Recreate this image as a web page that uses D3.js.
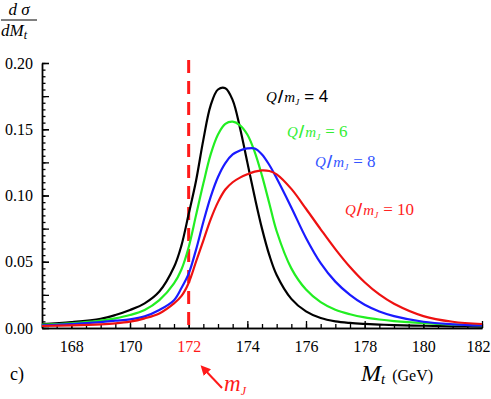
<!DOCTYPE html>
<html>
<head>
<meta charset="utf-8">
<script src="https://cdn.jsdelivr.net/npm/d3@7"></script>
<style>
  body { margin: 0; background: #fff; }
  svg { display: block; }
  .axis path, .axis line { stroke: #000; stroke-width: 1.3; }
</style>
</head>
<body>
<div id="chart"></div>
<script>
var SERIF = "'Liberation Serif', 'Times New Roman', serif";

// top mass values (GeV) where the curves were read
var massGrid = [167, 168, 169, 169.5, 170, 170.5, 171, 171.5, 171.75, 172, 172.25, 172.5, 172.75,
    173, 173.25, 173.5, 173.75, 174, 174.25, 174.5, 174.75, 175, 175.5, 176, 176.5,
    177, 177.5, 178, 178.5, 179, 180, 181, 182];

// d sigma / dMt for Q/mJ = 4, 6, 8, 10
var q4 = [0.003, 0.0045, 0.007, 0.0098, 0.0136, 0.0186, 0.0275, 0.046, 0.062, 0.086, 0.111, 0.142, 0.168,
    0.180, 0.181, 0.172, 0.151, 0.125, 0.099, 0.075, 0.055, 0.040, 0.022, 0.0125, 0.0075,
    0.005, 0.0038, 0.0031, 0.0026, 0.0022, 0.0017, 0.0013, 0.0011];
var q6 = [0.0025, 0.0035, 0.0055, 0.0073, 0.0098, 0.0136, 0.021, 0.0337, 0.044, 0.061, 0.085, 0.109, 0.131,
    0.146, 0.154, 0.1557, 0.153, 0.146, 0.133, 0.115, 0.094, 0.073, 0.045, 0.029, 0.0195,
    0.0138, 0.0104, 0.008, 0.0064, 0.0052, 0.0036, 0.0026, 0.002];
var q8 = [0.002, 0.003, 0.0045, 0.0055, 0.0065, 0.0088, 0.0136, 0.021, 0.030, 0.041, 0.059, 0.080, 0.099,
    0.114, 0.1245, 0.131, 0.134, 0.1355, 0.1355, 0.131, 0.123, 0.113, 0.091, 0.068, 0.049,
    0.035, 0.025, 0.0175, 0.0125, 0.009, 0.0047, 0.0028, 0.0019];
var q10 = [0.0015, 0.002, 0.0028, 0.0035, 0.0048, 0.0073, 0.011, 0.0186, 0.024, 0.034, 0.050, 0.066, 0.082,
    0.095, 0.1045, 0.110, 0.1135, 0.116, 0.118, 0.119, 0.1185, 0.116, 0.105, 0.090, 0.0745,
    0.0595, 0.046, 0.0345, 0.0253, 0.0183, 0.009, 0.0047, 0.003];

var seriesNames = ["4", "6", "8", "10"];
var seriesColors = ["#000000", "#22ee22", "#1a1aff", "#ee1111"];
var labelColors = ["#000000", "#33ee33", "#3355ff", "#ff2222"];

var xTickLabels = [168, 170, 172, 174, 176, 178, 180, 182];
var yTickLabels = [0.00, 0.05, 0.10, 0.15, 0.20];
var jetMass = 172;

var W = 491, H = 399;
var x = d3.scaleLinear().domain([167, 182]).range([42, 482]);
var y = d3.scaleLinear().domain([0, 0.2]).range([328, 63]);

var svg = d3.select("#chart").append("svg")
    .attr("width", W).attr("height", H);
svg.append("rect").attr("width", W).attr("height", H).attr("fill", "#fff");

// minor ticks first, then major ones with labels
svg.append("g").attr("class", "axis")
    .attr("transform", "translate(" + x.range()[0] + ",0)")
    .call(d3.axisLeft(y).tickValues(d3.range(0, 0.2001, 0.005)).tickSize(-3.5).tickSizeOuter(0).tickFormat(""));
svg.append("g").attr("class", "axis")
    .attr("transform", "translate(" + x.range()[0] + ",0)")
    .call(d3.axisLeft(y).tickValues(d3.range(0, 0.2001, 0.025)).tickSize(-7).tickSizeOuter(0).tickFormat(""));
var yAx = svg.append("g").attr("class", "axis")
    .attr("transform", "translate(" + x.range()[0] + ",0)")
    .call(d3.axisLeft(y).tickValues(yTickLabels).tickSize(-7).tickSizeOuter(0)
        .tickPadding(9).tickFormat(d3.format(".2f")));
yAx.selectAll("text").style("font-family", SERIF).style("font-size", "16px").attr("fill", "#000");

svg.append("g").attr("class", "axis")
    .attr("transform", "translate(0," + y.range()[0] + ")")
    .call(d3.axisBottom(x).tickValues(d3.range(167, 182.01, 0.5)).tickSize(-4).tickSizeOuter(0).tickFormat(""));
var xAx = svg.append("g").attr("class", "axis")
    .attr("transform", "translate(0," + y.range()[0] + ")")
    .call(d3.axisBottom(x).tickValues(xTickLabels).tickSize(-7).tickSizeOuter(0).tickPadding(13));
xAx.selectAll("text").style("font-family", SERIF).style("font-size", "16px")
    .attr("dx", function(d) { return d === 182 ? -4 : 0; })
    .attr("fill", function(d) { return d === jetMass ? "#ff1a1a" : "#000"; });

// dashed marker at m_J
svg.append("line")
    .attr("x1", x(jetMass)).attr("x2", x(jetMass))
    .attr("y1", 60).attr("y2", y(0))
    .attr("stroke", "#ff1a1a").attr("stroke-width", 3)
    .attr("stroke-dasharray", "13,8");

var line = d3.line()
    .x(function(d) { return x(d[0]); })
    .y(function(d) { return y(d[1]); })
    .curve(d3.curveCatmullRom.alpha(0.5));

[q4, q6, q8, q10].forEach(function(vals, i) {
    svg.append("path")
        .datum(massGrid.map(function(m, j) { return [m, vals[j]]; }))
        .attr("fill", "none")
        .attr("stroke", seriesColors[i])
        .attr("stroke-width", 2.2)
        .attr("d", line);
});

// curve labels  Q/m_J = n
var labelPos = [[266, 102], [287, 137], [315, 167], [345, 215]];
seriesNames.forEach(function(n, i) {
    var t = svg.append("text")
        .attr("x", labelPos[i][0]).attr("y", labelPos[i][1])
        .style("font-family", SERIF)
        .style("font-size", "15px")
        .attr("fill", labelColors[i]);
    t.append("tspan").attr("font-style", "italic").text("Q");
    t.append("tspan").attr("font-weight", "bold").style("font-family", "'DejaVu Sans', sans-serif")
        .attr("dx", 1).text("/");
    t.append("tspan").attr("font-style", "italic").attr("dx", 1).text("m");
    t.append("tspan").attr("font-style", "italic").style("font-size", "9px").attr("dy", 3).text("J");
    t.append("tspan").attr("dy", -3).attr("dx", 5)
        .style("font-family", i === 0 ? "'Liberation Sans', sans-serif" : SERIF)
        .style("font-size", "17px")
        .text("=  " + n);
});

// y axis title: d sigma / dM_t
var frac = svg.append("g").style("font-family", SERIF)
    .attr("font-style", "italic").style("font-size", "17px");
frac.append("text").attr("x", 19).attr("y", 15).attr("text-anchor", "middle").text("d σ");
frac.append("line").attr("x1", 1).attr("x2", 37).attr("y1", 20).attr("y2", 20)
    .attr("stroke", "#000").attr("stroke-width", 1);
var den = frac.append("text").attr("x", 1).attr("y", 36);
den.append("tspan").text("dM");
den.append("tspan").style("font-size", "12px").attr("dy", 3).text("t");

// x axis title
var xt = svg.append("text").attr("x", 361).attr("y", 381).style("font-family", SERIF);
xt.append("tspan").attr("font-style", "italic").style("font-size", "24px").text("M");
xt.append("tspan").attr("font-style", "italic").style("font-size", "15px").attr("dy", 3).text("t");
xt.append("tspan").style("font-size", "16px").attr("dy", -3).attr("dx", 7).text("(GeV)");

// panel tag
svg.append("text").attr("x", 10).attr("y", 380)
    .style("font-family", SERIF).style("font-size", "18px").text("c)");

// arrow pointing at the 172 label
svg.append("defs").append("marker")
    .attr("id", "head").attr("viewBox", "0 0 10 10")
    .attr("refX", 5).attr("refY", 5)
    .attr("markerWidth", 5).attr("markerHeight", 5)
    .attr("orient", "auto")
    .append("path").attr("d", "M0,0 L10,5 L0,10 Z").attr("fill", "#ff1a1a");
svg.append("line")
    .attr("x1", 222).attr("y1", 388).attr("x2", 204).attr("y2", 369)
    .attr("stroke", "#ff1a1a").attr("stroke-width", 2)
    .attr("marker-end", "url(#head)");

var mj = svg.append("text").attr("x", 224).attr("y", 391)
    .style("font-family", SERIF).attr("fill", "#ff1a1a")
    .attr("font-style", "italic");
mj.append("tspan").style("font-size", "23px").text("m");
mj.append("tspan").style("font-size", "12px").attr("dy", 4).text("J");
</script>
</body>
</html>
